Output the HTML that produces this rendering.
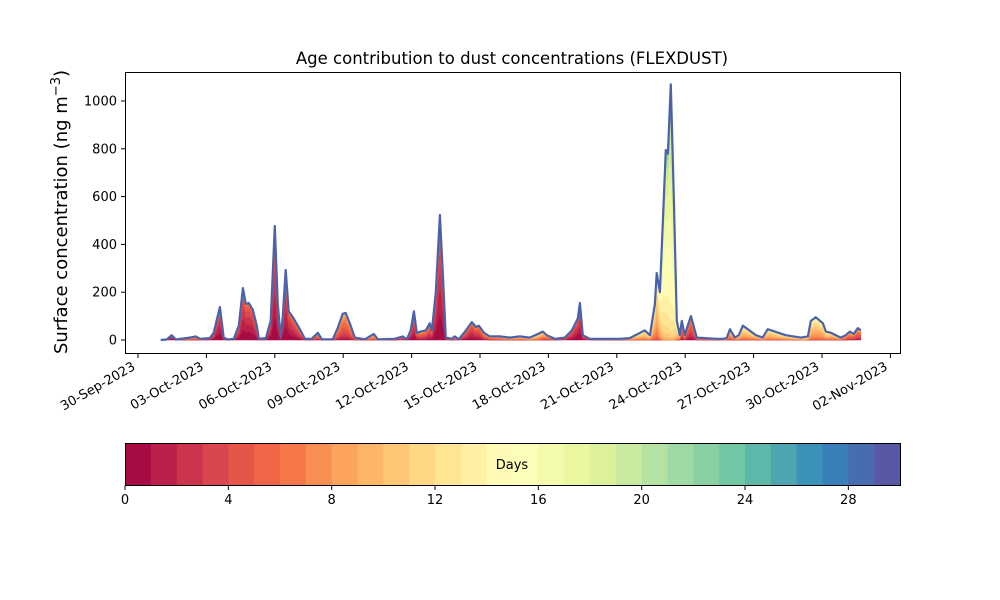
<!DOCTYPE html>
<html><head><meta charset="utf-8"><style>
body{margin:0;background:#fff}
svg{display:block;font-family:"DejaVu Sans","Liberation Sans",sans-serif}
</style></head><body>
<svg id="chart" width="1000" height="600"></svg>
<script>
// data: days since 01-Oct-2023 00:00, total concentration (ng m-3), dominant age (days)
const dayOffset=[0,0.26,0.48,0.66,1.27,1.54,1.71,2.15,2.32,2.59,2.76,2.94,3.2,3.42,3.6,3.73,3.86,4.04,4.21,4.3,4.61,4.82,5.0,5.13,5.26,5.35,5.48,5.61,5.83,6.1,6.32,6.62,6.89,7.06,7.54,7.76,7.98,8.11,8.29,8.51,8.95,9.34,9.52,10.26,10.61,10.79,10.96,11.1,11.23,11.4,11.62,11.8,11.89,12.06,12.24,12.37,12.5,12.76,12.89,13.07,13.38,13.64,13.82,13.95,14.17,14.43,14.87,15.31,15.75,16.18,16.54,16.75,16.93,17.28,17.72,18.03,18.29,18.38,18.51,18.82,19.25,20.13,20.57,21.23,21.45,21.67,21.75,21.89,22.02,22.15,22.24,22.37,22.5,22.63,22.76,22.85,22.98,23.11,23.25,23.51,24.39,24.65,24.82,24.96,25.18,25.35,25.53,26.1,26.4,26.62,27.41,28.07,28.38,28.51,28.73,29.04,29.17,29.39,29.82,30.04,30.22,30.39,30.57,30.7];
const totalConc=[0,2,20,2,10,15,5,8,30,138,10,2,5,60,217,150,155,125,60,5,8,80,477,150,10,100,293,120,90,45,5,5,30,3,3,50,110,113,70,10,3,25,3,5,15,3,40,120,30,35,40,70,40,200,523,280,10,5,15,3,40,75,55,60,30,15,15,10,15,10,25,35,20,5,10,40,90,155,20,5,5,5,8,40,20,150,280,200,500,795,780,1070,600,80,20,80,20,60,100,10,5,5,8,45,10,20,60,20,10,45,20,10,15,80,95,70,35,30,10,20,35,25,50,40,70];
const meanAge=[2,2,1,2,6,6,5,3,2,1,2,3,3,2,1,1,1,1,2,3,3,1,1,1,2,1,1,1,2,3,4,4,5,5,5,5,5,5,5,5,6,7,7,5,3,3,2,2,3,4,4,3,3,1,1,1,3,5,5,5,3,2,3,3,5,6,7,8,8,9,9,8,6,4,3,2,1,1,2,3,4,6,8,10,10,10,10,12,15,16,16,17,16,12,8,5,6,4,4,6,6,8,8,8,8,9,10,9,9,10,10,10,10,10,10,10,10,9,8,6,6,5,5,5,5];
const yTicks=[0,200,400,600,800,1000];
const xTickLabels=["30-Sep-2023","03-Oct-2023","06-Oct-2023","09-Oct-2023","12-Oct-2023","15-Oct-2023","18-Oct-2023","21-Oct-2023","24-Oct-2023","27-Oct-2023","30-Oct-2023","02-Nov-2023"];
const xTickDays=[-1,2,5,8,11,14,17,20,23,26,29,32];
const cbTicks=[0,4,8,12,16,20,24,28];
const nBins=30;

const NS="http://www.w3.org/2000/svg";
const svg=document.getElementById('chart');
function mk(tag,attrs,parent,text){const e=document.createElementNS(NS,tag);for(const k in attrs)e.setAttribute(k,attrs[k]);if(text!==undefined)e.textContent=text;(parent||svg).appendChild(e);return e;}
const X=d=>160.8+d*22.8;
const Y=v=>340-v*0.239;
const spec=["#9e0142","#d53e4f","#f46d43","#fdae61","#fee08b","#ffffbf","#e6f598","#abdda4","#66c2a5","#3288bd","#5e4fa2"];
function hex(h){return [1,3,5].map(i=>parseInt(h.substr(i,2),16));}
function cmap(t){const p=t*10,i=Math.min(9,Math.floor(p)),f=p-i;const a=hex(spec[i]),b=hex(spec[i+1]);return `rgb(${a.map((v,j)=>Math.round(v+(b[j]-v)*f)).join(',')})`;}
const binColor=k=>cmap((k+0.5)/nBins);

// title & labels
const title=mk('text',{x:512,y:64,'text-anchor':'middle','font-size':16.5},svg,'Age contribution to dust concentrations (FLEXDUST)');

const yl=mk('text',{transform:'translate(67,212) rotate(-90)','text-anchor':'middle','font-size':18},svg);

yl.innerHTML='Surface concentration (ng m<tspan dy="-7" font-size="13">−3</tspan><tspan dy="7">)</tspan>';

// stacked layers
const layers=mk('g',{},svg);

const cum=dayOffset.map((d,i)=>{const a=meanAge[i],s=2.8;let w=[];for(let k=0;k<nBins;k++)w.push(Math.exp(-0.5*Math.pow((k+0.5-a)/s,2)));const sum=w.reduce((p,q)=>p+q,0);let c=[0];for(let k=0;k<nBins;k++)c.push(c[k]+totalConc[i]*w[k]/sum);return c;});
for(let k=0;k<nBins;k++){
  let top=dayOffset.map((d,i)=>X(d).toFixed(1)+','+Y(cum[i][k+1]).toFixed(1));
  let bot=dayOffset.map((d,i)=>X(d).toFixed(1)+','+Y(cum[i][k]).toFixed(1)).reverse();
  const p=mk('polygon',{points:top.concat(bot).join(' '),fill:binColor(k),stroke:binColor(k),'stroke-width':0.6},layers);
  
}
const tl=mk('polyline',{points:dayOffset.map((d,i)=>X(d).toFixed(1)+','+Y(totalConc[i]).toFixed(1)).join(' '),fill:'none',stroke:'#4c62a8','stroke-width':2.2,'stroke-linejoin':'round'},svg);


// axes frame
const fr=mk('rect',{x:125.5,y:72.5,width:775,height:281,fill:'none',stroke:'#000','stroke-width':1},svg);

yTicks.forEach(v=>{
  mk('line',{x1:121,x2:125.5,y1:Y(v),y2:Y(v),stroke:'#000'});
  const t=mk('text',{x:117,y:Y(v)+4.5,'text-anchor':'end','font-size':13},svg,v);
  
});
xTickDays.forEach((d,i)=>{
  const x=X(d);
  mk('line',{x1:x,x2:x,y1:353.5,y2:358,stroke:'#000'});
  const t=mk('text',{transform:`translate(${x-2},369) rotate(-30)`,'text-anchor':'end','font-size':13},svg,xTickLabels[i]);
  
});

// colorbar
const cb=mk('g',{},svg);

const cbX=v=>125+v*775/30;
for(let k=0;k<nBins;k++){
  const r=mk('rect',{x:cbX(k),y:443,width:775/30+0.5,height:42,fill:binColor(k)},cb);
  
}
mk('rect',{x:125.5,y:443.5,width:775,height:42,fill:'none',stroke:'#000'},cb);
const dl=mk('text',{x:512,y:469,'text-anchor':'middle','font-size':13},cb,'Days');

cbTicks.forEach(v=>{
  mk('line',{x1:cbX(v),x2:cbX(v),y1:485.5,y2:490,stroke:'#000'},cb);
  const t=mk('text',{x:cbX(v),y:504,'text-anchor':'middle','font-size':13},cb,v);
  
});
</script>
</body></html>
